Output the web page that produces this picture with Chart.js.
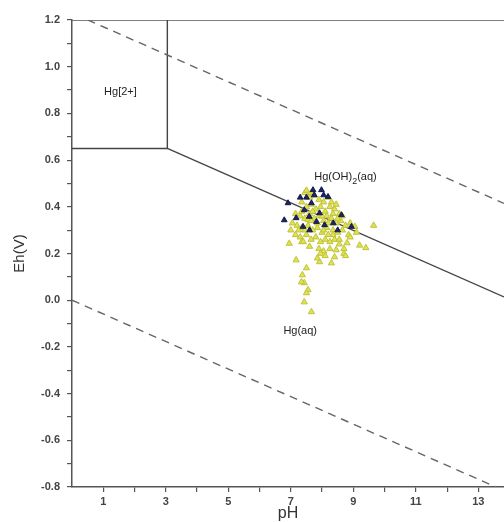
<!DOCTYPE html>
<html><head><meta charset="utf-8">
<script src="https://cdn.jsdelivr.net/npm/chart.js@4.4.0/dist/chart.umd.min.js"></script>
<style>html,body{margin:0;padding:0;background:#fff;overflow:hidden}canvas{display:block}</style>
</head><body><canvas id="c" width="504" height="522" style="width:504px;height:522px"></canvas>
<script>
// ---- data ----
const yellowPH = [7.45,7.6,7.75,7.9,8.05,8.2,7.35,7.5,7.65,7.8,7.95,8.1,8.25,8.4,8.55,8.65,
  7.15,7.3,7.45,7.6,7.75,7.9,8.05,8.15,8.3,8.45,8.6,8.75,8.9,
  7.05,7.2,7.35,7.55,7.7,7.85,8.0,8.15,8.35,8.5,8.65,8.85,9.05,9.65,
  7.0,7.15,7.3,7.5,7.65,7.8,7.95,8.1,8.25,8.4,8.55,8.8,9.2,9.4,
  6.95,7.35,7.6,7.9,8.05,8.45,8.7,
  7.17,7.92,8.30,8.40,7.50,7.43,7.34,7.55,7.50,7.43,7.66,7.37,7.85,
  7.5,7.65,8.3,8.45,7.35,7.55,7.7,7.85,8.0,8.2,8.35,8.5,7.45,7.65,8.05,8.2,8.35,8.55,8.7,8.75,8.25,8.1,7.95,7.4,7.25,8.9,9.1];
const yellowEh = [0.46,0.44,0.45,0.43,0.42,0.44,0.42,0.40,0.41,0.39,0.40,0.38,0.40,0.39,0.37,0.36,
  0.37,0.36,0.35,0.37,0.35,0.36,0.34,0.36,0.35,0.33,0.34,0.32,0.33,
  0.33,0.32,0.31,0.32,0.30,0.31,0.29,0.31,0.30,0.29,0.30,0.28,0.315,0.32,
  0.30,0.28,0.27,0.28,0.26,0.27,0.25,0.26,0.25,0.26,0.24,0.245,0.235,0.224,
  0.243,0.25,0.23,0.22,0.21,0.215,0.20,
  0.172,0.164,0.159,0.185,0.138,0.074,0.078,0.044,0.031,-0.008,-0.05,0.108,0.18,
  0.47,0.46,0.42,0.41,0.38,0.345,0.38,0.33,0.36,0.33,0.37,0.35,0.30,0.34,0.30,0.28,0.28,0.26,0.22,0.19,0.22,0.19,0.20,0.25,0.30,0.27,0.29];
const navyPH = [6.91,6.79,7.71,7.75,8.19,7.43,7.17,7.39,7.59,7.92,7.82,8.62,8.94,8.08,7.66,8.36,7.98,7.3,7.5,8.05,8.5,7.6];
const navyEh = [0.416,0.343,0.472,0.45,0.443,0.386,0.352,0.315,0.358,0.373,0.336,0.365,0.315,0.322,0.416,0.33,0.472,0.44,0.44,0.45,0.30,0.30];

// boundary lines (pH, Eh)
const upperWaterPH = [0.5, 13.82];
const upperWaterEh = [1.2005, 0.4146];
const lowerWaterPH = [0, 13.56];
const lowerWaterEh = [0, -0.8];
const hgBoxPH = [0, 3.05, 3.05];
const hgBoxEh = [0.65, 0.65, 1.2];
const hgOHLinePH = [3.05, 13.82];
const hgOHLineEh = [0.65, 0.014];
const topBorderPH = [0, 13.82];
const topBorderEh = [1.2, 1.2];

const fieldLabels = ['Hg[2+]', 'Hg(OH)2(aq)', 'Hg(aq)'];
const fieldLabelPH = [1.55, 8.75, 7.3];
const fieldLabelEh = [0.89, 0.527, -0.13];

const xTicks = [1,2,3,4,5,6,7,8,9,10,11,12,13];

function pts(xs, ys){ return xs.map((x,i)=>({x:x, y:ys[i]})); }

const lineStyle = (xs, ys, dash, color) => ({
  type:'scatter', data: pts(xs, ys), showLine:true, pointRadius:0, borderColor:color,
  borderWidth:1.4, borderDash:dash, fill:false, order:3, tension:0
});

const FONT = '"Liberation Sans", Arial, sans-serif';

const labelPlugin = {
  id:'fieldLabels',
  afterDatasetsDraw(chart){
    const {ctx, scales:{x, y}} = chart;
    ctx.save();
    ctx.fillStyle = '#222';
    ctx.textBaseline = 'middle';
    fieldLabels.forEach((t, i) => {
      const px = x.getPixelForValue(fieldLabelPH[i]);
      const py = y.getPixelForValue(fieldLabelEh[i]);
      ctx.font = '11px ' + FONT;
      if (t === 'Hg(OH)2(aq)') {
        const a = 'Hg(OH)', b = '2', c = '(aq)';
        const wa = ctx.measureText(a).width, wc = ctx.measureText(c).width;
        ctx.font = '9px ' + FONT;
        const wb = ctx.measureText(b).width;
        let sx = px - (wa + wb + wc) / 2;
        ctx.textAlign = 'left';
        ctx.font = '11px ' + FONT;
        ctx.fillText(a, sx, py);
        ctx.font = '9px ' + FONT;
        ctx.fillText(b, sx + wa, py + 4);
        ctx.font = '11px ' + FONT;
        ctx.fillText(c, sx + wa + wb, py);
      } else {
        ctx.textAlign = 'center';
        ctx.fillText(t, px, py);
      }
    });
    ctx.restore();
  }
};

new Chart(document.getElementById('c'), {
  type:'scatter',
  data:{
    datasets:[
      { data: pts(navyPH, navyEh), pointStyle:'triangle', pointRadius:3.3, backgroundColor:'#1c2366', borderColor:'#121a4a', borderWidth:1, order:0 },
      { data: pts(yellowPH, yellowEh), pointStyle:'triangle', pointRadius:3.6, backgroundColor:'#e0e34c', borderColor:'#bfc23e', borderWidth:1, order:1 },
      lineStyle(upperWaterPH, upperWaterEh, [8,6], '#666'),
      lineStyle(lowerWaterPH, lowerWaterEh, [8,6], '#666'),
      lineStyle(hgBoxPH, hgBoxEh, [], '#444'),
      lineStyle(hgOHLinePH, hgOHLineEh, [], '#444'),
      lineStyle(topBorderPH, topBorderEh, [], '#555')
    ]
  },
  options:{
    responsive:false, animation:false, devicePixelRatio:1,
    layout:{ autoPadding:false, padding:{ top:20, right:0, left:0, bottom:0 } },
    plugins:{ legend:{display:false}, tooltip:{enabled:false} },
    scales:{
      x:{
        type:'linear', min:0, max:13.82,
        afterBuildTicks(s){ s.ticks = xTicks.map(v=>({value:v})); },
        afterFit(s){ s.height = 35; s.paddingRight = 0; s.paddingLeft = 0; },
        grid:{ display:true, drawOnChartArea:false, drawTicks:true, tickLength:5, color:'#555', lineWidth:1.2 },
        border:{ display:true, color:'#555', width:1.5 },
        ticks:{ autoSkip:false, maxRotation:0, padding:3, color:'#444',
          font:{ family:FONT, size:11, weight:'bold' },
          callback:(v)=> (v % 2 === 1 ? String(v) : '') },
        title:{ display:true, text:'pH', color:'#333', padding:{top:0,bottom:0},
          font:{ family:FONT, size:16, lineHeight:1 } }
      },
      y:{
        type:'linear', min:-0.8, max:1.2,
        afterFit(s){ s.width = 72; },
        grid:{ display:true, drawOnChartArea:false, drawTicks:true, tickLength:5, color:'#555', lineWidth:1.2 },
        border:{ display:true, color:'#555', width:1.5 },
        ticks:{ stepSize:0.1, autoSkip:false, padding:7, color:'#444',
          font:{ family:FONT, size:11, weight:'bold' },
          callback:(v)=> (Math.abs(Math.round(v*10)) % 2 === 0 ? v.toFixed(1) : '') },
        title:{ display:true, text:'Eh(V)', color:'#333', padding:{top:11,bottom:0},
          font:{ family:FONT, size:15 } }
      }
    }
  },
  plugins:[labelPlugin]
});
</script>
</body></html>
